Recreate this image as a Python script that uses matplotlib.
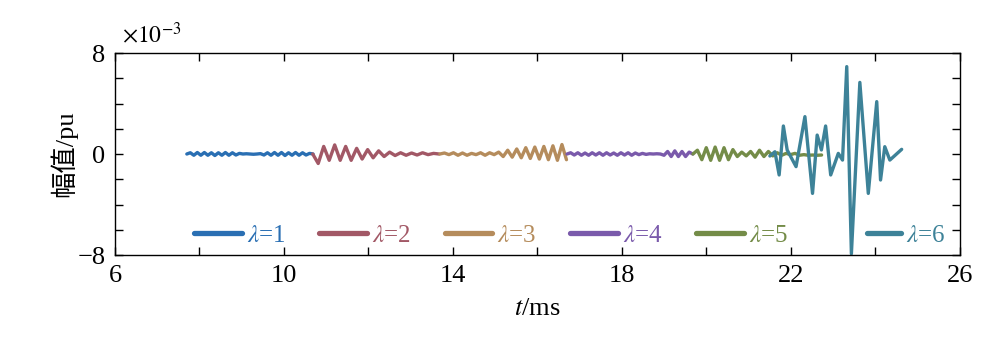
import numpy as np
import matplotlib.pyplot as plt

plt.rcParams['font.family'] = ['Liberation Serif', 'Noto Sans CJK SC']
plt.rcParams['mathtext.fontset'] = 'stix'

# amplitude values in units of 1e-3 pu, sampled at regular steps (t0, dt in ms)
t0_1, dt_1 = 7.7, 0.083
y1 = [0, 0.1, -0.1, 0.12, -0.1, 0.12, -0.1, 0.1, -0.12, 0.1, -0.1, 0.12, -0.1, 0.1, -0.08, 0.05,
      0, 0.02, 0, -0.02, 0, 0.03,
      -0.08, 0.1, -0.1, 0.12, -0.1, 0.12, -0.12, 0.1, -0.1, 0.12, -0.1, 0.1, -0.08, 0.05, 0]

t0_2, dt_2 = 10.68, 0.13
y2 = [0, -0.75, 0.6, -0.5, 0.72, -0.5, 0.6, -0.5, 0.45, -0.4, 0.35, -0.3, 0.25, -0.2, 0.15,
      -0.12, 0.1, -0.1, 0.08, -0.08, 0.1, -0.05, 0.05, 0.0]

t0_3, dt_3 = 13.69, 0.107
y3 = [0, 0.08, -0.05, 0.1, -0.1, 0.08, -0.1, 0.05, -0.05, 0.1, -0.1, 0.1, -0.05, 0.15, -0.2,
      0.3, -0.25, 0.4, -0.3, 0.5, -0.35, 0.55, -0.4, 0.6, -0.45, 0.65, -0.5, 0.75, -0.45]

t0_4, dt_4 = 16.7, 0.085
y4 = [0, 0.1, -0.08, 0.1, -0.1, 0.08, -0.1, 0.1, -0.08, 0.1, -0.1, 0.1, -0.08, 0.08, -0.1, 0.1,
      -0.08, 0.1, -0.1, 0.08, -0.05, 0.05, -0.03, 0.02,
      0, 0.02, 0,
      -0.1, 0.2, -0.2, 0.25, -0.2, 0.2, -0.2, 0.15, 0]

t0_5, dt_5 = 19.68, 0.105
y5 = [0, 0.3, -0.45, 0.5, -0.5, 0.55, -0.5, 0.5, -0.45, 0.35, -0.2, 0.15, -0.15, 0.2, -0.25,
      0.3, -0.2, 0.2, -0.15, 0.1, -0.1, 0.05, -0.05, 0.05, -0.1, -0.05, -0.1, -0.08, -0.1, -0.08]

t6 = [21.50, 21.62, 21.72, 21.82, 21.91, 22.12, 22.33, 22.51, 22.62, 22.72, 22.82, 22.94,
      23.12, 23.22, 23.32, 23.43, 23.63, 23.83, 24.03, 24.12, 24.22, 24.34, 24.62]
y6 = [-0.16, 0.18, -1.66, 2.22, 0.32, -1.0, 2.96, -3.12, 1.5, 0.32, 2.22, -1.66,
      0.05, -0.48, 6.92, -7.9, 5.67, -3.12, 4.15, -2.06, 0.58, -0.48, 0.37]

labels = [r'$\lambda$=1', r'$\lambda$=2', r'$\lambda$=3', r'$\lambda$=4', r'$\lambda$=5', r'$\lambda$=6']
colors = ['#2a6fb3', '#a25866', '#b58c5c', '#7a5aab', '#748c48', '#3d8298']

segs = [(t0_1, dt_1, y1), (t0_2, dt_2, y2), (t0_3, dt_3, y3), (t0_4, dt_4, y4), (t0_5, dt_5, y5)]

fig = plt.figure(figsize=(10.07, 3.37), dpi=100)
ax = fig.add_axes([0.1142, 0.2433, 0.8391, 0.5994])

lines = []
for i, (t0, dt, y) in enumerate(segs):
  t = t0 + dt * np.arange(len(y))
  l, = ax.plot(t, y, color=colors[i], lw=2.4, label=labels[i], solid_capstyle='round')
  lines.append(l)
l, = ax.plot(t6, y6, color=colors[5], lw=2.4, label=labels[5], solid_capstyle='round')
lines.append(l)

ax.set_xlim(6, 26)
ax.set_ylim(-8, 8)
xt = np.arange(6, 27, 2)
ax.set_xticks(xt)
ax.set_xticklabels([str(v) if (v - 6) % 4 == 0 else '' for v in xt])
yt = np.arange(-8, 9, 2)
ax.set_yticks(yt)
ax.set_yticklabels(['\u22128' if v == -8 else (str(v) if v % 8 == 0 else '') for v in yt])
ax.tick_params(direction='in', length=6, width=1, top=True, right=True, labelsize=19, pad=7)
for s in ax.spines.values():
  s.set_linewidth(1.0)

ax.set_xlabel(r'$t$/ms', fontsize=19, labelpad=8)
ax.set_ylabel('幅值/pu', fontsize=19, labelpad=0)
ax.text(0.008, 1.025, r'$\times10^{\mathrm{-3}}$', transform=ax.transAxes, fontsize=17,
        ha='left', va='bottom')

leg1 = ax.legend(handles=lines[:5], ncol=5, loc='center left', bbox_to_anchor=(0.082, 0.095),
                 frameon=False, fontsize=18, handlelength=1.9, handletextpad=0.2,
                 columnspacing=1.35, labelcolor='linecolor', borderaxespad=0)
for h in leg1.legend_handles:
  h.set_linewidth(3.8)
ax.add_artist(leg1)
leg2 = ax.legend(handles=lines[5:], loc='center left', bbox_to_anchor=(0.878, 0.095),
                 frameon=False, fontsize=18, handlelength=1.35, handletextpad=0.2,
                 labelcolor='linecolor', borderaxespad=0)
for h in leg2.legend_handles:
  h.set_linewidth(3.8)

fig.savefig('out.png', dpi=100)
